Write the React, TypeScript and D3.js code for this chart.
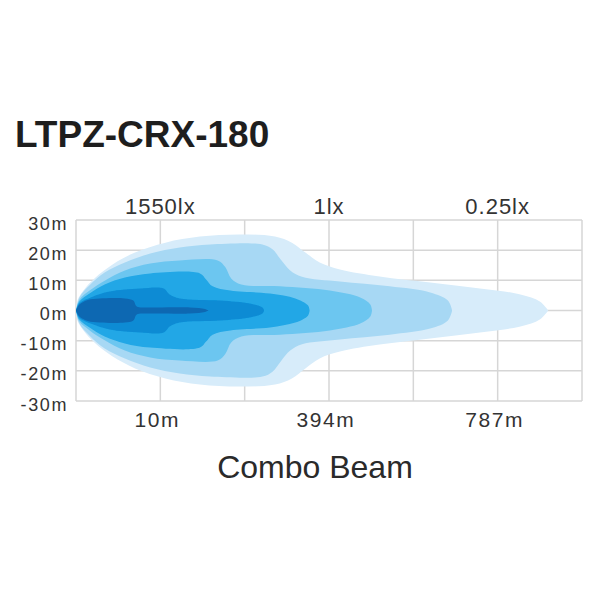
import * as d3 from "d3";

// beam contours: [distance in grid columns, half width in metres], outermost first
const beam1: [number, number][] = [
  [0, 0], [0.02, 3.6], [0.095, 6.9], [0.225, 10.8], [0.43, 15.2], [0.7, 19.2], [1.06, 22.5],
  [1.47, 24.5], [1.94, 25.2], [2.36, 24.5], [2.56, 22.5], [2.72, 19.2], [2.89, 15.9], [3.13, 13.6],
  [3.6, 11.3], [4.2, 9.3], [4.79, 7.3], [5.27, 5.3], [5.5, 3.0], [5.6, 0],
];
const beam2: [number, number][] = [
  [0, 0], [0.04, 4.3], [0.17, 8.6], [0.34, 12.6], [0.58, 15.9], [0.88, 18.9], [1.23, 20.9],
  [1.59, 21.9], [2.21, 21.9], [2.33, 20.3], [2.43, 16.8], [2.54, 13.3], [2.68, 11.2], [3.13, 9.6],
  [3.72, 8.0], [4.2, 6.0], [4.41, 3.3], [4.46, 0],
];
const beam3: [number, number][] = [
  [0, 0], [0.04, 3.6], [0.17, 6.8], [0.34, 9.9], [0.58, 13.3], [0.88, 15.6], [1.23, 16.6],
  [1.68, 16.6], [1.77, 14.4], [1.84, 10.6], [1.96, 8.6], [2.42, 8.0], [3.01, 6.6], [3.37, 4.3],
  [3.49, 2.0], [3.51, 0],
];
const beam4: [number, number][] = [
  [0, 0], [0.04, 3.0], [0.17, 5.8], [0.34, 8.6], [0.58, 10.9], [0.88, 12.3], [1.47, 12.3],
  [1.54, 10.4], [1.62, 8.0], [1.83, 6.6], [2.3, 5.6], [2.6, 4.0], [2.75, 1.7], [2.77, 0],
];
const beam5: [number, number][] = [
  [0, 0], [0.04, 2.4], [0.19, 4.5], [0.4, 6.3], [0.76, 7.3], [1.04, 7.3], [1.11, 5.3],
  [1.23, 4.0], [1.71, 3.3], [2.06, 2.3], [2.21, 1.0], [2.23, 0],
];
const beam6: [number, number][] = [
  [0, 0], [0.04, 2.0], [0.14, 3.5], [0.28, 4.0], [0.58, 4.0], [0.68, 3.3], [0.72, 1.3],
  [0.88, 1.0], [1.35, 1.0], [1.53, 0.5], [1.57, 0],
];
const beams = [beam1, beam2, beam3, beam4, beam5, beam6];
const beamColors = ["#d7ecfa", "#a7d8f4", "#6cc6f0", "#21a7e6", "#0b8bd4", "#0a67b2"];

const yTicks = [30, 20, 10, 0, -10, -20, -30];
const columns = [0, 1, 2, 3, 4, 5, 6];
const luxLabels = ["1550lx", "1lx", "0.25lx"];
const distLabels = ["10m", "394m", "787m"];
const labelColumns = [1, 3, 5];

const font = "'Liberation Sans', Arial, sans-serif";

export default function App() {
  const x = d3.scaleLinear().domain([0, 6]).range([76, 582]);
  const y = d3.scaleLinear().domain([-30, 30]).range([401, 220]);

  const area = d3
    .area<[number, number]>()
    .x((d) => x(d[0]))
    .y0((d) => y(-d[1]))
    .y1((d) => y(d[1]))
    .curve(d3.curveCatmullRom.alpha(0.5));

  return (
    <svg
      width={600}
      height={600}
      style={{ position: "absolute", left: 0, top: 0, background: "#fff" }}
      fontFamily={font}
    >
      <defs>
        <filter id="soft" x="-5%" y="-5%" width="110%" height="110%">
          <feGaussianBlur stdDeviation={0.6} />
        </filter>
      </defs>

      <text x={15} y={147} fontSize={37} fontWeight="bold" fill="#1e1e1e">
        LTPZ-CRX-180
      </text>

      {/* grid */}
      <g stroke="#d6d6d6" strokeWidth={1.5}>
        {yTicks.map((t) => (
          <line key={"h" + t} x1={x(0)} x2={x(6)} y1={y(t)} y2={y(t)} />
        ))}
        {columns.map((c) => (
          <line key={"v" + c} x1={x(c)} x2={x(c)} y1={y(30)} y2={y(-30)} />
        ))}
      </g>

      <g filter="url(#soft)">
        {beams.map((b, i) => (
          <path key={i} d={area(b) ?? ""} fill={beamColors[i]} />
        ))}
      </g>

      <g fontSize={18} fill="#333" textAnchor="end" letterSpacing={1.6}>
        {yTicks.map((t) => (
          <text key={t} x={x(0) - 8} y={y(t) + 9.5}>
            {t + "m"}
          </text>
        ))}
      </g>

      <g fontSize={22} fill="#333" textAnchor="middle" letterSpacing={1}>
        {luxLabels.map((l, i) => (
          <text key={l} x={x(labelColumns[i])} y={214}>
            {l}
          </text>
        ))}
      </g>

      <g fontSize={21} fill="#333" textAnchor="middle" letterSpacing={1.6}>
        {distLabels.map((l, i) => (
          <text key={l} x={x(labelColumns[i]) - 3} y={y(-30) + 26}>
            {l}
          </text>
        ))}
      </g>

      <text x={315} y={478} fontSize={32} fill="#2a2a2a" textAnchor="middle">
        Combo Beam
      </text>
    </svg>
  );
}
